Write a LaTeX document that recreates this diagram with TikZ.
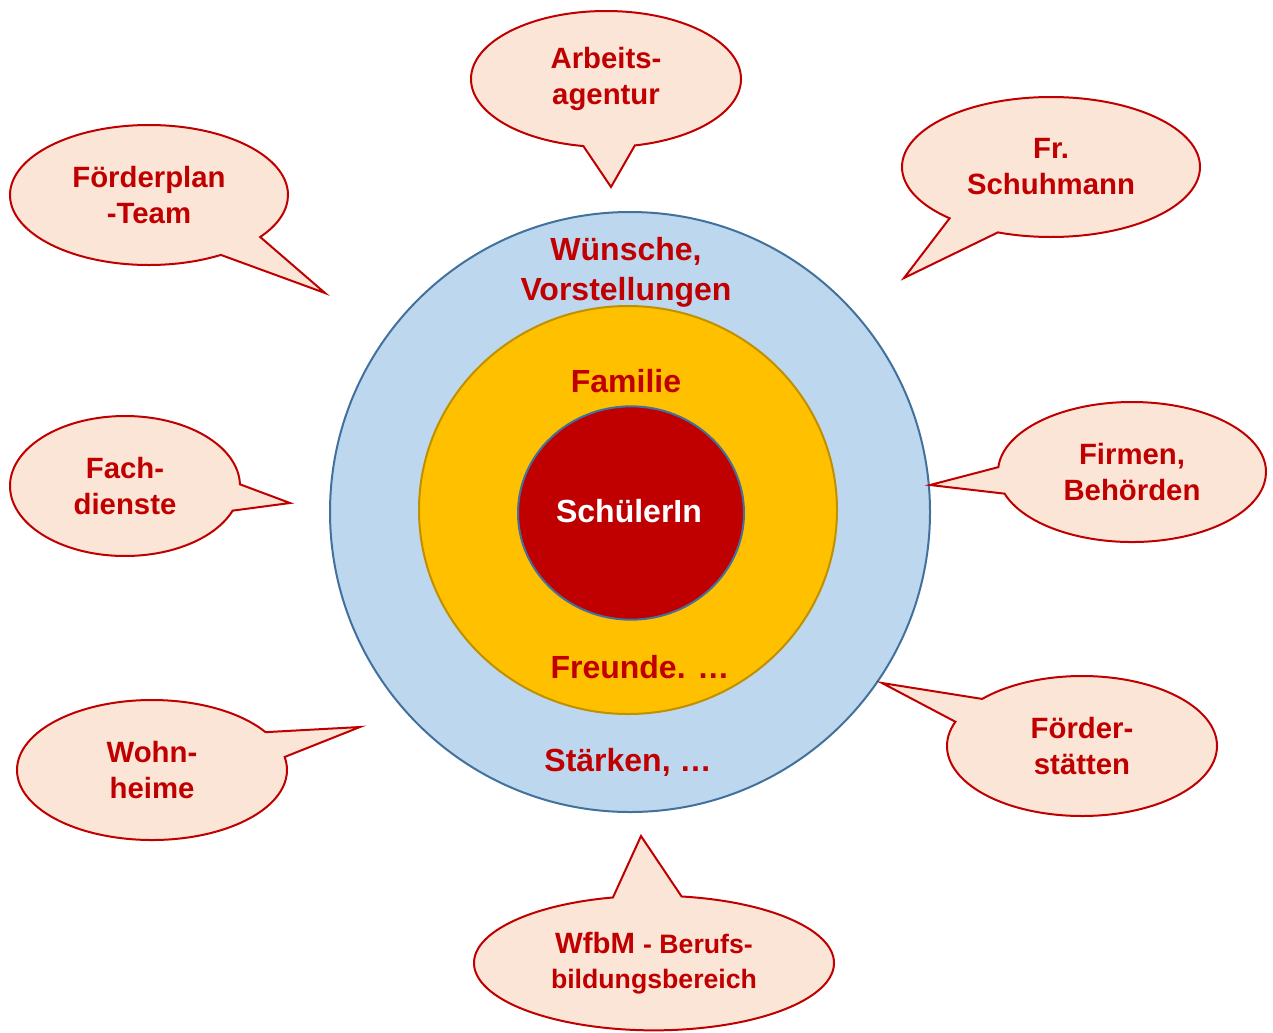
\documentclass[tikz,border=0pt]{standalone}
\usepackage{fontspec}
\setmainfont{Liberation Sans}
\usetikzlibrary{shapes.geometric,shapes.callouts}
\definecolor{darkred}{HTML}{C00000}
\definecolor{skyfill}{HTML}{BDD7EE}
\definecolor{skyline}{HTML}{41719C}
\definecolor{goldfill}{HTML}{FFC000}
\definecolor{goldline}{HTML}{BF9000}
\definecolor{peach}{HTML}{FBE5D6}
\begin{document}
\begin{tikzpicture}[x=0.75pt,y=-0.75pt,
  ring/.style = {draw, ellipse, inner sep=0pt, line width=1.5pt},
  lbl/.style = {text=darkred, font=\fontsize{24}{30}\selectfont\bfseries, align=center},
  bubble/.style = {draw=darkred, fill=peach, ellipse callout, line width=1.5pt, callout pointer arc=22,
    minimum height=105pt, text=darkred, font=\fontsize{22}{27}\selectfont\bfseries, align=center}]
\useasboundingbox (0,0) rectangle (1273,1032);

% the three rings
\node[ring, draw=skyline, fill=skyfill, minimum width=450pt, minimum height=450pt] (outer) at (630,512) {};
\node[ring, draw=goldline, fill=goldfill, minimum width=313.5pt, minimum height=306pt] (middle) at (628,510) {};
\node[ring, draw=skyline, fill=darkred, minimum width=169.5pt, minimum height=160pt] (inner) at (631,513) {};

\node[lbl] (wishes) at (626,272) {Wünsche,\\Vorstellungen};
\node[lbl] (family) at (626,381) {Familie};
\node[lbl, text=white] (pupil) at (629,511) {SchülerIn};
\node[lbl] (friends) at (640,667) {Freunde. …};
\node[lbl] (strengths) at (628,762) {Stärken, …};

% speech bubbles
\node[bubble, minimum width=202.5pt, minimum height=102pt, callout absolute pointer={(611,187)}] (agency) at (606,79) {Arbeits-\\agentur};
\node[bubble, minimum width=208.5pt, callout absolute pointer={(325,293)}] (team) at (149,195) {Förderplan\\-Team};
\node[bubble, minimum width=223.5pt, callout absolute pointer={(904,278)}] (teacher) at (1051,167) {Fr.\\Schuhmann};
\node[bubble, minimum width=172.5pt, callout absolute pointer={(290,503)}] (services) at (125,486) {Fach-\\dienste};
\node[bubble, minimum width=201pt, callout absolute pointer={(930,485)}] (firms) at (1132,472) {Firmen,\\Behörden};
\node[bubble, minimum width=202.5pt, callout absolute pointer={(360,727)}] (homes) at (152,770) {Wohn-\\heime};
\node[bubble, minimum width=202.5pt, callout absolute pointer={(882,683)}] (centres) at (1082,746) {Förder-\\stätten};
\node[bubble, minimum width=270pt, minimum height=101pt, callout absolute pointer={(641,836)}] (workshop) at (654,963)
  {WfbM {\fontsize{20}{25}\selectfont- Berufs-}\\[-1pt]{\fontsize{20}{25}\selectfont bildungsbereich}};

\end{tikzpicture}
\end{document}
